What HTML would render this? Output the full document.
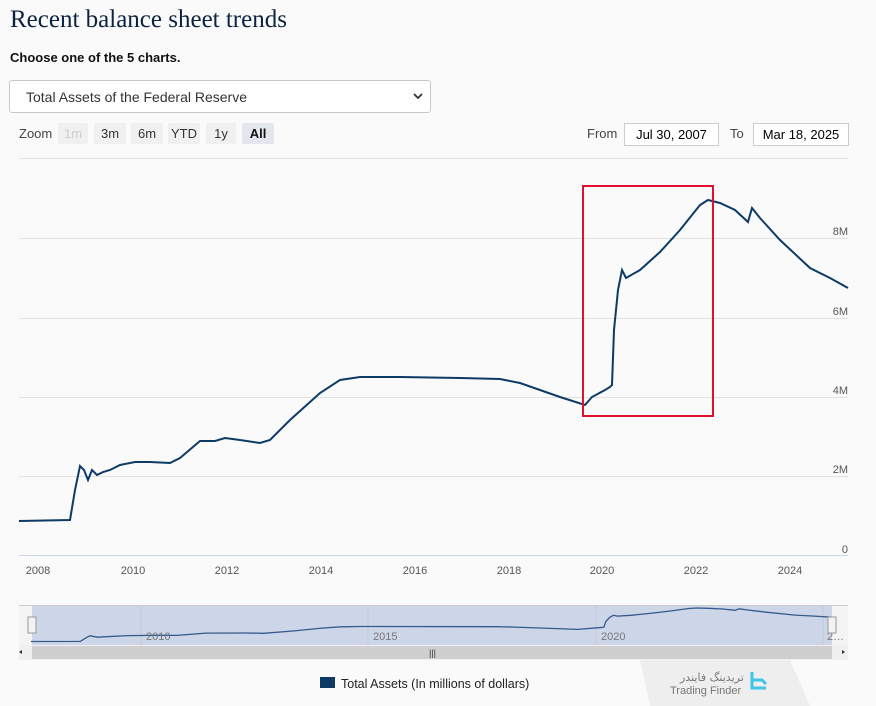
<!DOCTYPE html>
<html><head><style>
body{margin:0;width:876px;height:706px;background:#fafafa;font-family:"Liberation Sans",sans-serif;position:relative;overflow:hidden}
.a{position:absolute}
h1{position:absolute;left:10px;top:6px;margin:0;font:400 25px "Liberation Serif",serif;color:#0c2340}
.btn{position:absolute;top:123px;height:21px;font-size:13px;line-height:21px;text-align:center;background:#f0f0f0;color:#333;border-radius:2px}
.yl{position:absolute;right:28px;font-size:11px;color:#555}
.xl{position:absolute;top:565px;font-size:11px;color:#555;width:40px;text-align:center}
</style></head><body>
<h1>Recent balance sheet trends</h1>
<div class="a" style="left:10px;top:50px;font-weight:bold;font-size:13px;color:#111">Choose one of the 5 charts.</div>
<div class="a" style="left:9px;top:80px;width:420px;height:31px;border:1px solid #c8c8c8;border-radius:3px;background:#fff"><span class="a" style="left:16px;top:8px;font-size:14px;color:#333">Total Assets of the Federal Reserve</span><svg class="a" style="right:7px;top:11px" width="10" height="8"><path d="M1 2 l4 4 4-4" stroke="#333" stroke-width="1.8" fill="none"/></svg></div>
<div class="a" style="left:19px;top:126px;font-size:13px;color:#444">Zoom</div>
<div class="btn" style="left:58px;width:30px;color:#ccc">1m</div>
<div class="btn" style="left:94px;width:32px">3m</div>
<div class="btn" style="left:131px;width:32px">6m</div>
<div class="btn" style="left:168px;width:32px">YTD</div>
<div class="btn" style="left:206px;width:30px">1y</div>
<div class="btn" style="left:242px;width:32px;background:#e3e6ee;font-weight:bold;color:#111">All</div>
<div class="a" style="left:587px;top:126px;font-size:13px;color:#444">From</div>
<div class="a" style="left:624px;top:123px;width:93px;height:21px;border:1px solid #ccc;background:#fff;font-size:13px;line-height:21px;text-align:center">Jul 30, 2007</div>
<div class="a" style="left:730px;top:126px;font-size:13px;color:#444">To</div>
<div class="a" style="left:753px;top:123px;width:94px;height:21px;border:1px solid #ccc;background:#fff;font-size:13px;line-height:21px;text-align:center">Mar 18, 2025</div>
<svg class="a" style="left:0;top:0" width="876" height="706">
<g stroke="#e2e2e2" stroke-width="1">
<line x1="19" x2="848" y1="158.5" y2="158.5"/><line x1="19" x2="848" y1="238.5" y2="238.5"/><line x1="19" x2="848" y1="318.5" y2="318.5"/><line x1="19" x2="848" y1="397.5" y2="397.5"/><line x1="19" x2="848" y1="476.5" y2="476.5"/></g>
<line x1="19" x2="848" y1="555.5" y2="555.5" stroke="#ccd6eb"/>
<polyline fill="none" stroke="#0d3b66" stroke-width="2" points="19,521 70,520 75,490 80,466 84,470 88,480 92,470 97,475 103,472 110,470 120,465 135,462 150,462 170,463 180,458 200,441 215,441 225,438 240,440 260,443 270,440 290,420 320,393 340,380 360,377 400,377 460,378 500,379 520,383 560,397 585,405 592,397 605,390 610,387 612,385 614,330 618,290 622,270 626,278 640,270 660,252 680,230 700,205 708,200 720,203 735,210 748,222 752,208 760,218 780,240 810,268 830,278 848,288"/>
<rect x="583" y="186" width="130" height="230" fill="none" stroke="#e0102f" stroke-width="2"/>
<rect x="19" y="605" width="829" height="40" fill="#f4f4f4"/>
<rect x="32" y="605" width="800" height="40" fill="#cdd6e8"/>
<line x1="19" x2="848" y1="605.5" y2="605.5" stroke="#ccc"/>
<g stroke="#c4cbd9"><line x1="141" x2="141" y1="605" y2="645"/><line x1="368" x2="368" y1="605" y2="645"/><line x1="596" x2="596" y1="605" y2="645"/><line x1="823" x2="823" y1="605" y2="645"/></g>
<polyline fill="none" stroke="#335a8c" stroke-width="1.3" points="31,641.5 80.3,641.4 85.1,638.3 89.9,635.8 97.7,637.2 106.4,636.7 128.6,635.6 157.6,635.3 176.9,635.4 205.9,633.1 244.5,633 263.8,633.3 292.8,631 321.8,628.1 341.1,626.8 360.4,626.5 495.7,626.7 515,627.1 553.6,628.5 577.8,629.4 597.1,627.8 603.8,627.3 605.8,621.6 609.6,617.4 613.5,615.3 617.4,616.1 630.9,615.3 650.2,613.4 669.5,611.1 688.9,608.5 696.6,608 708.2,608.3 722.7,609 735.2,610.3 739.1,608.8 746.8,609.9 766.1,612.2 795.1,615.1 814.4,616.1 831.8,617.2"/>
<g font-size="11" fill="#777" font-family="Liberation Sans"><text x="146" y="640">2010</text><text x="373" y="640">2015</text><text x="601" y="640">2020</text><text x="827" y="640">2…</text></g>
<rect x="19" y="645" width="829" height="15" fill="#f0f0f0"/><rect x="32" y="646" width="800" height="13" fill="#cfcfcf"/>
<rect x="28" y="617" width="8" height="16" fill="#f2f2f2" stroke="#999"/><rect x="828" y="617" width="8" height="16" fill="#f2f2f2" stroke="#999"/>
<text x="429" y="656" font-size="9" fill="#333">|||</text>
<path d="M22 650 l-3 2 3 2z M842 650 l3 2 -3 2z" fill="#333"/>
<rect x="320" y="677" width="15" height="11" fill="#0d3b66"/>
<text x="341" y="688" font-size="12.5" fill="#222" font-family="Liberation Sans">Total Assets (In millions of dollars)</text>
<polygon points="650,706 640,660 790,660 810,706" fill="#eeeeee"/>
<text x="670" y="694" font-size="11" fill="#777">Trading Finder</text>
<text x="680" y="681" font-size="11" fill="#777" font-family="DejaVu Sans">تریدینگ فایندر</text>
<path d="M752 672 v16 h14 M752 680 h10 l4 4" stroke="#3ec6e8" stroke-width="3" fill="none"/>
</svg>
<div class="yl" style="top:226px">8M</div><div class="yl" style="top:306px">6M</div><div class="yl" style="top:385px">4M</div><div class="yl" style="top:464px">2M</div><div class="yl" style="top:544px">0</div>
<div class="xl" style="left:18px">2008</div><div class="xl" style="left:113px">2010</div><div class="xl" style="left:207px">2012</div><div class="xl" style="left:301px">2014</div><div class="xl" style="left:395px">2016</div><div class="xl" style="left:489px">2018</div><div class="xl" style="left:582px">2020</div><div class="xl" style="left:676px">2022</div><div class="xl" style="left:770px">2024</div>
</body></html>
